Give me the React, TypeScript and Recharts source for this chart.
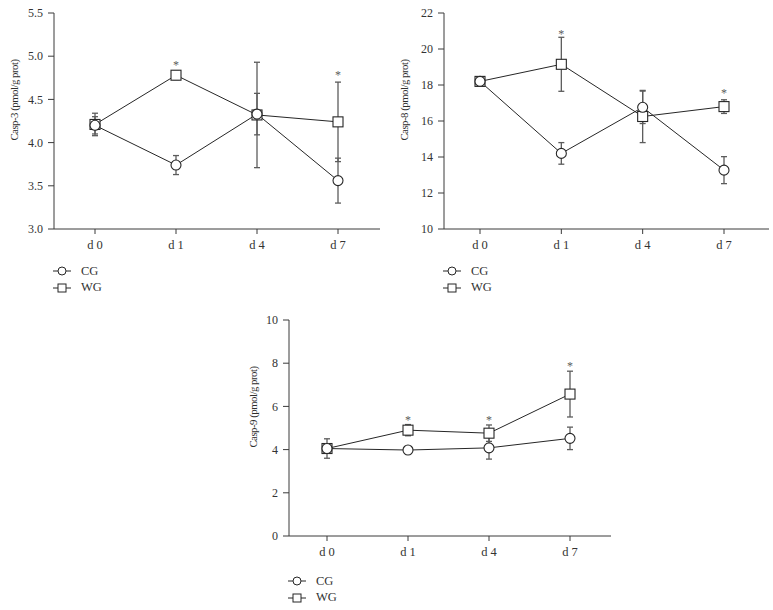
import React from "react";
import { LineChart, Line, XAxis, YAxis, ErrorBar, Legend } from "recharts";

const FONT = '"Liberation Serif", "DejaVu Serif", serif';
const INK = "#262626";
const AXIS = "#3a3a3a";
const GREY = "#5c5c5c";

const days = ["d 0", "d 1", "d 4", "d 7"];

// Casp-3
const casp3Cg = [4.2, 3.74, 4.33, 3.56];
const casp3CgErr = [0.1, 0.11, 0.24, 0.26];
const casp3Wg = [4.21, 4.78, 4.32, 4.24];
const casp3WgErr = [0.13, 0.05, 0.61, 0.46];
const casp3Star = [null, 4.92, null, 4.8];
const casp3Ticks = [3, 3.5, 4, 4.5, 5, 5.5];

// Casp-8
const casp8Cg = [18.2, 14.2, 16.76, 13.27];
const casp8CgErr = [0.15, 0.6, 0.9, 0.75];
const casp8Wg = [18.2, 19.15, 16.25, 16.8];
const casp8WgErr = [0.15, 1.5, 1.45, 0.38];
const casp8Star = [null, 20.95, null, 17.65];
const casp8Ticks = [10, 12, 14, 16, 18, 20, 22];

// Casp-9
const casp9Cg = [4.05, 3.98, 4.08, 4.52];
const casp9CgErr = [0.45, 0.12, 0.52, 0.52];
const casp9Wg = [4.05, 4.9, 4.76, 6.57];
const casp9WgErr = [0.1, 0.26, 0.38, 1.06];
const casp9Star = [null, 5.45, 5.45, 7.97];
const casp9Ticks = [0, 2, 4, 6, 8, 10];

function buildRows(cg: number[], cgErr: number[], wg: number[], wgErr: number[], star: (number | null)[]) {
  return days.map((day, i) => ({
    day,
    cg: cg[i],
    cgErr: cgErr[i],
    wg: wg[i],
    wgErr: wgErr[i],
    star: star[i],
  }));
}

const circleDot = (p: any) => (
  <circle key={`c${p.index}`} cx={p.cx} cy={p.cy} r={5} fill="#fff" stroke={INK} strokeWidth={1.1} />
);

const squareDot = (p: any) => (
  <rect key={`s${p.index}`} x={p.cx - 5} y={p.cy - 5} width={10} height={10} fill="#fff" stroke={INK} strokeWidth={1.1} />
);

const starDot = (p: any) => {
  if (p.cy == null || p.payload?.star == null) return <g key={`t${p.index}`} />;
  return (
    <text key={`t${p.index}`} x={p.cx} y={p.cy + 6} textAnchor="middle" fontSize={12} fill={GREY} fontFamily={FONT}>
      *
    </text>
  );
};

function LegendBox({ payload }: any) {
  const items = (payload ?? []).filter((e: any) => e.dataKey === "cg" || e.dataKey === "wg");
  return (
    <div style={{ fontFamily: FONT, fontSize: 12.5, color: "#333" }}>
      {items.map((e: any) => (
        <div key={e.dataKey} style={{ display: "flex", alignItems: "center", height: 16.5 }}>
          <svg width={18} height={12} style={{ marginRight: 10 }}>
            <line x1={0} y1={6} x2={18} y2={6} stroke={INK} strokeWidth={1} />
            {e.dataKey === "cg" ? (
              <circle cx={9} cy={6} r={4} fill="#fff" stroke={INK} strokeWidth={1} />
            ) : (
              <rect x={5} y={2} width={8} height={8} fill="#fff" stroke={INK} strokeWidth={1} />
            )}
          </svg>
          <span>{e.value}</span>
        </div>
      ))}
    </div>
  );
}

function Panel({
  rows, ticks, domain, label, box, margin, yWidth, pad, legendPos, labelDx, decimals,
}: {
  rows: any[];
  ticks: number[];
  domain: [number, number];
  label: string;
  box: { left: number; top: number; width: number; height: number };
  margin: { top: number; right: number; bottom: number; left: number };
  yWidth: number;
  pad: { left: number; right: number };
  legendPos: { left: number; top: number };
  labelDx: number;
  decimals: number;
}) {
  const yLabel = (props: any) => {
    const vb = props.viewBox;
    const x = vb.x + vb.width - labelDx;
    const y = vb.y + 87;
    return (
      <text
        x={x}
        y={y}
        transform={`rotate(-90, ${x}, ${y})`}
        textAnchor="middle"
        dominantBaseline="central"
        fontSize={10.8}
        letterSpacing={-0.5}
        fill="#2e2e2e"
        fontFamily={FONT}
      >
        {label}
      </text>
    );
  };

  return (
    <div style={{ position: "absolute", left: box.left, top: box.top }}>
      <LineChart width={box.width} height={box.height} data={rows} margin={margin}>
        <XAxis
          dataKey="day"
          padding={pad}
          stroke={AXIS}
          tickSize={5}
          tickMargin={6}
          tick={{ fontSize: 12.5, fill: "#333", fontFamily: FONT }}
          interval={0}
        />
        <YAxis
          width={yWidth}
          type="number"
          domain={domain}
          ticks={ticks}
          interval={0}
          stroke={AXIS}
          tickSize={6}
          tickMargin={5}
          tick={{ fontSize: 12, fill: "#333", fontFamily: FONT }}
          tickFormatter={(v: number) => v.toFixed(decimals)}
          label={yLabel}
        />
        <Legend
          layout="vertical"
          align="center"
          verticalAlign="middle"
          content={<LegendBox />}
          wrapperStyle={{ left: legendPos.left, top: legendPos.top, width: "auto", height: "auto" }}
        />
        <Line
          dataKey="wg"
          name="WG"
          stroke={INK}
          strokeWidth={1}
          dot={squareDot}
          activeDot={false}
          isAnimationActive={false}
        >
          <ErrorBar dataKey="wgErr" width={3} stroke={GREY} strokeWidth={1.3} direction="y" />
        </Line>
        <Line
          dataKey="cg"
          name="CG"
          stroke={INK}
          strokeWidth={1}
          dot={circleDot}
          activeDot={false}
          isAnimationActive={false}
        >
          <ErrorBar dataKey="cgErr" width={3} stroke={GREY} strokeWidth={1.3} direction="y" />
        </Line>
        <Line
          dataKey="star"
          stroke="none"
          legendType="none"
          dot={starDot}
          activeDot={false}
          isAnimationActive={false}
        />
      </LineChart>
    </div>
  );
}

export default function App() {
  return (
    <div style={{ position: "absolute", left: 0, top: 0, width: 773, height: 610, background: "#fff" }}>
      <Panel
        rows={buildRows(casp3Cg, casp3CgErr, casp3Wg, casp3WgErr, casp3Star)}
        ticks={casp3Ticks}
        domain={[3, 5.5]}
        label="Casp-3 (pmol/g prot)"
        box={{ left: 0, top: 0, width: 390, height: 300 }}
        margin={{ top: 13, right: 10, bottom: 41, left: 0 }}
        yWidth={54}
        pad={{ left: 41, right: 42 }}
        legendPos={{ left: 53, top: 263 }}
        labelDx={40}
        decimals={1}
      />
      <Panel
        rows={buildRows(casp8Cg, casp8CgErr, casp8Wg, casp8WgErr, casp8Star)}
        ticks={casp8Ticks}
        domain={[10, 22]}
        label="Casp-8 (pmol/g prot)"
        box={{ left: 390, top: 0, width: 383, height: 300 }}
        margin={{ top: 13, right: 4, bottom: 41, left: 0 }}
        yWidth={54}
        pad={{ left: 36, right: 45 }}
        legendPos={{ left: 53, top: 263 }}
        labelDx={40}
        decimals={0}
      />
      <Panel
        rows={buildRows(casp9Cg, casp9CgErr, casp9Wg, casp9WgErr, casp9Star)}
        ticks={casp9Ticks}
        domain={[0, 10]}
        label="Casp-9 (pmol/g prot)"
        box={{ left: 235, top: 305, width: 390, height: 305 }}
        margin={{ top: 15, right: 14, bottom: 44, left: 0 }}
        yWidth={54}
        pad={{ left: 38, right: 41 }}
        legendPos={{ left: 53, top: 268 }}
        labelDx={36}
        decimals={0}
      />
    </div>
  );
}
